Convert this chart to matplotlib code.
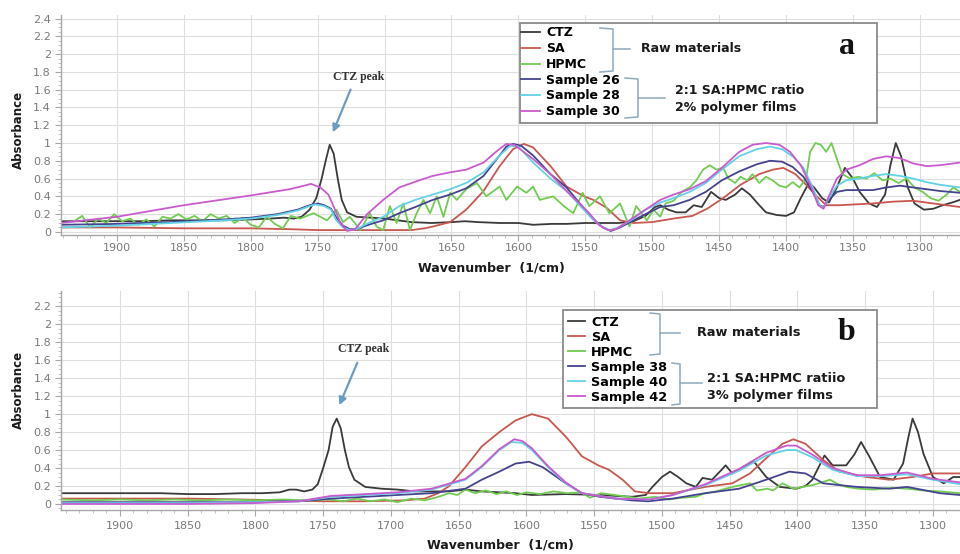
import matplotlib
matplotlib.use("Agg")
import matplotlib.pyplot as plt
from matplotlib.patches import Rectangle
from matplotlib.lines import Line2D
from matplotlib.ticker import MultipleLocator

# ---------------- data: panel a ----------------
a_ctz_wn = [1942,1920,1900,1880,1860,1840,1820,1800,1785,1775,1768,1762,1756,1751,1747,1744,1741,1738,1735,1732,1728,1721,1710,1700,1690,1680,1665,1650,1640,1630,1614,1600,1589,1575,1564,1550,1539,1525,1514,1505,1498,1494,1488,1482,1475,1469,1463,1456,1450,1445,1438,1433,1427,1420,1415,1407,1400,1394,1389,1383,1379,1373,1368,1362,1356,1350,1345,1338,1332,1326,1322,1318,1314,1309,1304,1297,1290,1283,1276,1270]
a_ctz_ab = [0.12,0.12,0.12,0.12,0.13,0.13,0.13,0.14,0.15,0.16,0.15,0.17,0.25,0.38,0.60,0.80,0.98,0.88,0.60,0.36,0.22,0.17,0.16,0.15,0.13,0.11,0.10,0.11,0.12,0.11,0.10,0.10,0.08,0.09,0.09,0.10,0.10,0.10,0.12,0.18,0.28,0.30,0.25,0.22,0.22,0.30,0.28,0.45,0.38,0.36,0.42,0.49,0.42,0.30,0.22,0.19,0.18,0.22,0.38,0.55,0.50,0.38,0.33,0.50,0.72,0.60,0.45,0.32,0.28,0.42,0.75,1.00,0.85,0.50,0.32,0.25,0.26,0.30,0.33,0.36]

a_sa_wn = [1942,1900,1850,1800,1770,1750,1700,1680,1670,1664,1651,1639,1626,1614,1604,1596,1589,1576,1564,1551,1544,1534,1524,1514,1500,1484,1470,1459,1447,1434,1420,1410,1402,1393,1385,1377,1370,1360,1335,1320,1305,1290,1270]
a_sa_ab = [0.05,0.05,0.04,0.04,0.03,0.02,0.02,0.02,0.04,0.06,0.11,0.25,0.46,0.74,0.93,0.99,0.95,0.74,0.51,0.40,0.36,0.27,0.13,0.10,0.11,0.15,0.18,0.26,0.38,0.53,0.65,0.70,0.72,0.65,0.53,0.40,0.30,0.30,0.32,0.34,0.35,0.32,0.28]

a_hpmc_wn = [1932,1926,1920,1914,1908,1902,1896,1890,1884,1878,1872,1866,1860,1854,1848,1842,1836,1830,1824,1818,1812,1806,1800,1794,1788,1782,1776,1770,1763,1753,1743,1736,1731,1726,1718,1711,1706,1701,1696,1691,1686,1681,1676,1671,1666,1661,1656,1651,1646,1639,1631,1624,1614,1609,1601,1594,1589,1584,1574,1566,1559,1552,1547,1539,1532,1524,1517,1512,1504,1499,1494,1490,1484,1478,1472,1467,1462,1457,1452,1447,1443,1438,1434,1429,1425,1420,1415,1410,1405,1400,1395,1390,1385,1382,1378,1374,1370,1366,1362,1358,1352,1346,1340,1334,1328,1322,1316,1310,1304,1298,1292,1286,1280,1275,1270]
a_hpmc_ab = [0.12,0.18,0.05,0.15,0.10,0.20,0.12,0.15,0.08,0.14,0.06,0.17,0.15,0.20,0.14,0.18,0.12,0.20,0.15,0.18,0.10,0.16,0.08,0.05,0.17,0.09,0.04,0.18,0.15,0.21,0.13,0.25,0.11,0.17,0.02,0.21,0.06,0.02,0.29,0.10,0.32,0.02,0.21,0.36,0.21,0.40,0.17,0.44,0.36,0.48,0.55,0.40,0.51,0.36,0.51,0.44,0.51,0.36,0.40,0.29,0.21,0.44,0.29,0.40,0.21,0.32,0.06,0.29,0.13,0.25,0.17,0.32,0.35,0.45,0.50,0.58,0.70,0.75,0.70,0.72,0.60,0.55,0.62,0.58,0.65,0.55,0.62,0.58,0.52,0.50,0.56,0.50,0.60,0.90,1.00,0.98,0.90,1.00,0.82,0.65,0.60,0.62,0.60,0.66,0.58,0.60,0.55,0.60,0.50,0.45,0.38,0.35,0.42,0.50,0.45]

a_s26_wn = [1942,1900,1860,1820,1800,1780,1765,1756,1750,1745,1740,1736,1731,1726,1721,1712,1701,1689,1677,1664,1651,1639,1626,1614,1609,1604,1598,1589,1576,1564,1553,1545,1537,1531,1524,1514,1505,1494,1484,1472,1460,1448,1435,1422,1412,1403,1395,1387,1380,1375,1372,1368,1362,1355,1345,1335,1325,1315,1305,1295,1285,1270]
a_s26_ab = [0.08,0.09,0.11,0.14,0.16,0.20,0.25,0.30,0.32,0.30,0.26,0.16,0.07,0.03,0.03,0.08,0.13,0.21,0.28,0.36,0.42,0.49,0.63,0.86,0.96,0.99,0.97,0.86,0.65,0.50,0.30,0.16,0.05,0.01,0.05,0.13,0.20,0.28,0.30,0.36,0.45,0.58,0.68,0.76,0.80,0.79,0.73,0.62,0.45,0.30,0.28,0.36,0.45,0.47,0.47,0.47,0.50,0.52,0.50,0.48,0.46,0.44]

a_s28_wn = [1942,1900,1860,1820,1800,1780,1765,1756,1752,1745,1740,1736,1731,1726,1721,1712,1701,1689,1677,1664,1651,1639,1626,1614,1606,1600,1589,1576,1564,1553,1545,1537,1531,1524,1514,1505,1494,1484,1472,1460,1448,1435,1422,1412,1403,1395,1387,1380,1375,1372,1368,1362,1355,1345,1335,1325,1315,1305,1295,1285,1270]
a_s28_ab = [0.05,0.07,0.10,0.13,0.15,0.19,0.24,0.29,0.31,0.29,0.25,0.13,0.05,0.02,0.03,0.10,0.17,0.29,0.36,0.42,0.48,0.55,0.67,0.86,0.97,0.96,0.78,0.60,0.46,0.28,0.15,0.05,0.02,0.06,0.15,0.25,0.33,0.38,0.45,0.55,0.70,0.85,0.93,0.96,0.93,0.85,0.72,0.50,0.30,0.27,0.38,0.52,0.58,0.60,0.63,0.65,0.63,0.60,0.56,0.53,0.50]

a_s30_wn = [1942,1900,1850,1800,1771,1760,1755,1748,1742,1737,1733,1728,1722,1713,1701,1689,1676,1664,1651,1639,1626,1616,1609,1603,1589,1576,1564,1553,1547,1540,1533,1527,1518,1505,1494,1484,1472,1460,1448,1435,1425,1415,1405,1397,1389,1381,1376,1372,1368,1362,1355,1345,1335,1325,1315,1305,1295,1285,1270]
a_s30_ab = [0.10,0.17,0.30,0.41,0.48,0.52,0.54,0.50,0.42,0.25,0.10,0.01,0.03,0.20,0.36,0.50,0.57,0.63,0.67,0.70,0.78,0.91,0.99,0.98,0.82,0.65,0.46,0.30,0.21,0.08,0.02,0.03,0.12,0.25,0.36,0.42,0.48,0.57,0.72,0.90,0.98,1.00,0.98,0.90,0.75,0.50,0.30,0.26,0.40,0.60,0.70,0.75,0.82,0.85,0.83,0.77,0.74,0.75,0.78]

# ---------------- data: panel b ----------------
b_ctz_wn = [1943,1900,1870,1850,1830,1810,1795,1782,1775,1770,1764,1758,1754,1750,1746,1743,1740,1737,1734,1731,1727,1719,1707,1695,1682,1657,1645,1633,1608,1596,1571,1546,1522,1512,1507,1500,1494,1488,1482,1475,1470,1463,1456,1453,1448,1440,1432,1423,1413,1401,1394,1389,1383,1380,1374,1364,1358,1353,1347,1339,1329,1322,1318,1315,1311,1307,1300,1292,1285,1280]
b_ctz_ab = [0.12,0.12,0.12,0.11,0.11,0.12,0.12,0.13,0.16,0.16,0.14,0.16,0.22,0.40,0.60,0.86,0.95,0.84,0.60,0.41,0.27,0.19,0.17,0.16,0.14,0.14,0.16,0.14,0.12,0.10,0.11,0.10,0.08,0.10,0.19,0.30,0.36,0.30,0.23,0.19,0.29,0.27,0.38,0.43,0.34,0.41,0.47,0.30,0.19,0.17,0.20,0.27,0.45,0.54,0.43,0.43,0.55,0.69,0.53,0.30,0.27,0.45,0.75,0.95,0.80,0.56,0.30,0.23,0.30,0.30]

b_sa_wn = [1943,1900,1850,1810,1780,1750,1720,1690,1675,1665,1657,1645,1633,1620,1608,1596,1584,1571,1559,1547,1539,1529,1520,1509,1492,1468,1448,1435,1423,1411,1403,1394,1381,1369,1349,1332,1315,1300,1280]
b_sa_ab = [0.06,0.06,0.06,0.05,0.04,0.03,0.03,0.04,0.06,0.12,0.20,0.41,0.64,0.80,0.93,1.00,0.95,0.75,0.53,0.43,0.38,0.27,0.14,0.12,0.12,0.19,0.23,0.34,0.51,0.67,0.72,0.67,0.49,0.36,0.30,0.27,0.30,0.34,0.34]

b_hpmc_wn = [1943,1920,1900,1880,1860,1840,1820,1800,1780,1760,1745,1735,1725,1715,1705,1695,1685,1675,1665,1657,1651,1645,1638,1630,1622,1615,1607,1600,1590,1580,1570,1560,1553,1545,1535,1525,1517,1505,1495,1485,1475,1468,1460,1453,1445,1435,1430,1422,1418,1411,1403,1396,1389,1382,1376,1370,1364,1355,1344,1330,1319,1307,1295,1280]
b_hpmc_ab = [0.05,0.04,0.05,0.04,0.05,0.04,0.05,0.04,0.05,0.04,0.05,0.03,0.06,0.03,0.05,0.02,0.06,0.04,0.08,0.12,0.10,0.16,0.12,0.15,0.11,0.14,0.10,0.13,0.11,0.14,0.12,0.13,0.07,0.12,0.10,0.08,0.06,0.08,0.05,0.07,0.08,0.12,0.14,0.17,0.20,0.23,0.15,0.17,0.15,0.23,0.17,0.19,0.21,0.24,0.27,0.22,0.19,0.17,0.16,0.18,0.17,0.15,0.14,0.12]

b_s38_wn = [1943,1900,1850,1800,1780,1768,1744,1719,1695,1670,1645,1633,1620,1608,1598,1588,1571,1559,1546,1522,1510,1492,1468,1443,1423,1406,1394,1381,1369,1356,1332,1319,1295,1280]
b_s38_ab = [0.02,0.02,0.02,0.02,0.03,0.03,0.06,0.08,0.10,0.12,0.17,0.27,0.36,0.45,0.47,0.41,0.23,0.12,0.08,0.04,0.03,0.06,0.12,0.17,0.27,0.36,0.34,0.23,0.21,0.19,0.17,0.19,0.12,0.10]

b_s40_wn = [1943,1900,1850,1800,1768,1744,1719,1695,1670,1645,1633,1620,1611,1603,1596,1584,1571,1559,1534,1509,1492,1468,1443,1423,1408,1401,1389,1374,1356,1339,1319,1300,1280]
b_s40_ab = [0.01,0.01,0.01,0.02,0.03,0.08,0.10,0.12,0.16,0.27,0.41,0.60,0.69,0.68,0.60,0.41,0.23,0.12,0.06,0.05,0.10,0.21,0.37,0.54,0.60,0.60,0.52,0.38,0.31,0.31,0.33,0.27,0.22]

b_s42_wn = [1943,1900,1850,1800,1768,1744,1719,1695,1670,1645,1633,1620,1609,1603,1596,1584,1571,1559,1534,1509,1492,1468,1443,1423,1408,1401,1389,1374,1356,1339,1319,1300,1280]
b_s42_ab = [0.00,0.00,0.00,0.01,0.03,0.09,0.11,0.13,0.17,0.28,0.42,0.61,0.72,0.70,0.62,0.42,0.24,0.12,0.06,0.05,0.10,0.22,0.39,0.57,0.65,0.65,0.55,0.40,0.32,0.32,0.35,0.28,0.24]

raw_labels = ["CTZ", "SA", "HPMC"]
a_sample_labels = ["Sample 26", "Sample 28", "Sample 30"]
b_sample_labels = ["Sample 38", "Sample 40", "Sample 42"]
y_ticks_a = [0, 0.2, 0.4, 0.6, 0.8, 1, 1.2, 1.4, 1.6, 1.8, 2, 2.2, 2.4]
y_ticks_b = [0, 0.2, 0.4, 0.6, 0.8, 1, 1.2, 1.4, 1.6, 1.8, 2, 2.2]
x_ticks = [1900, 1850, 1800, 1750, 1700, 1650, 1600, 1550, 1500, 1450, 1400, 1350, 1300]

colors = ["#3a3a3a", "#c8574f", "#72cc52", "#45438f", "#62d2e6", "#c95bcf"]

W, H = 960, 554
fig = plt.figure(figsize=(W / 100, H / 100), dpi=100)
fig.patch.set_facecolor("white")

def fig_rect(l, t, r, b):
    return [l / W, 1 - b / H, (r - l) / W, (b - t) / H]

ax_a = fig.add_axes(fig_rect(60.7, 15, 960, 235))
ax_b = fig.add_axes(fig_rect(61, 291, 960, 510))

def style(ax, xlim, ylim, yticks, xpad):
    ax.set_xlim(*xlim)
    ax.set_ylim(*ylim)
    ax.set_xticks(x_ticks)
    ax.set_yticks(yticks)
    ax.set_yticklabels([("%g" % v) for v in yticks])
    ax.xaxis.set_minor_locator(MultipleLocator(10))
    ax.yaxis.set_minor_locator(MultipleLocator(0.05))
    ax.grid(True, which="major", color="#dedede", lw=0.8)
    ax.set_axisbelow(True)
    for s in ["top", "right"]:
        ax.spines[s].set_visible(False)
    for s in ["left", "bottom"]:
        ax.spines[s].set_color("#a8a8a8")
        ax.spines[s].set_linewidth(1.0)
    ax.tick_params(axis="both", which="major", colors="#a8a8a8", labelcolor="#7a7a7a",
                   labelsize=8, length=4, width=0.8)
    ax.tick_params(axis="both", which="minor", colors="#b8b8b8", length=2.5, width=0.6)
    ax.tick_params(axis="x", pad=xpad)
    ax.tick_params(axis="y", pad=3)

style(ax_a, (1942, 1270), (-0.035, 2.44), y_ticks_a, 2)
style(ax_b, (1943.5, 1280), (-0.067, 2.37), y_ticks_b, 4)

lw = 1.3
series_a = [(a_ctz_wn, a_ctz_ab), (a_sa_wn, a_sa_ab), (a_hpmc_wn, a_hpmc_ab),
            (a_s26_wn, a_s26_ab), (a_s28_wn, a_s28_ab), (a_s30_wn, a_s30_ab)]
series_b = [(b_ctz_wn, b_ctz_ab), (b_sa_wn, b_sa_ab), (b_hpmc_wn, b_hpmc_ab),
            (b_s38_wn, b_s38_ab), (b_s40_wn, b_s40_ab), (b_s42_wn, b_s42_ab)]
order = [2, 1, 4, 5, 3, 0]  # drawing order: green, red, cyan, pink, navy, black

handles_a = [None] * 6
handles_b = [None] * 6
la = raw_labels + a_sample_labels
lb = raw_labels + b_sample_labels
for i in order:
    h, = ax_a.plot(series_a[i][0], series_a[i][1], color=colors[i], lw=lw, label=la[i], zorder=2 + i * 0.01)
    handles_a[i] = h
    h, = ax_b.plot(series_b[i][0], series_b[i][1], color=colors[i], lw=lw, label=lb[i], zorder=2 + i * 0.01)
    handles_b[i] = h

br_color = "#8eaabd"
box_color = "#8a8a8a"

def add_box(ax, tr, box, leg_anchor, fs, brackets, texts, letter):
    l, t, r, b = box
    x0, y0 = tr(l, b)
    x1, y1 = tr(r, t)
    ax.add_patch(Rectangle((x0, y0), x1 - x0, y1 - y0, transform=ax.transAxes,
                           facecolor="white", edgecolor=box_color, lw=1.3, zorder=5))
    for seg in brackets:
        xs = [tr(px, py)[0] for px, py in seg]
        ys = [tr(px, py)[1] for px, py in seg]
        ax.add_line(Line2D(xs, ys, transform=ax.transAxes, color=br_color, lw=1.1, zorder=7))
    for (px, py, s) in texts:
        x, y = tr(px, py)
        ax.text(x, y, s, transform=ax.transAxes, fontsize=fs, fontweight="bold",
                color="#1a1a1a", ha="left", va="center", zorder=8)
    lx, ly, ls = letter
    x, y = tr(lx, ly)
    ax.text(x, y, ls, transform=ax.transAxes, fontsize=23, fontweight="bold",
            family="Liberation Serif", color="#111111", ha="center", va="center", zorder=8)
    return tr(*leg_anchor)

def tr_a(px, py):
    return ((px - 60.7) / 899.3, (235 - py) / 220)

def tr_b(px, py):
    return ((px - 61) / 899, (510 - py) / 219)

# panel a box
anc = add_box(ax_a, tr_a, (520, 23, 877, 123), (521, 26.5), 9,
              [[(600, 28), (613, 29), (613, 71), (600, 72)], [(613, 49), (630, 49)],
               [(625, 78), (638, 79), (638, 117), (625, 118)], [(638, 98), (665, 98)]],
              [(641, 48, "Raw materials"), (675, 90, "2:1 SA:HPMC ratio"), (675, 107, "2% polymer films")],
              (847, 47, "a"))
leg = ax_a.legend(handles=handles_a, loc="upper left", bbox_to_anchor=anc, frameon=False,
                  prop=dict(size=9, weight="bold"), handlelength=1.55, handletextpad=0.45,
                  labelspacing=0.22, borderpad=0.0, borderaxespad=0.0)
leg.set_zorder(9)

anc = add_box(ax_b, tr_b, (563, 310, 877, 408), (568, 315.5), 9.3,
              [[(650, 313), (660, 314), (660, 354), (650, 355)], [(660, 333), (680, 333)],
               [(672, 363), (680, 364), (680, 404), (672, 405)], [(680, 383), (702, 383)]],
              [(697, 333, "Raw materials"), (707, 378, "2:1 SA:HPMC ratiio"), (707, 395, "3% polymer films")],
              (847, 332, "b"))
leg = ax_b.legend(handles=handles_b, loc="upper left", bbox_to_anchor=anc, frameon=False,
                  prop=dict(size=9.3, weight="bold"), handlelength=1.35, handletextpad=0.45,
                  labelspacing=0.16, borderpad=0.0, borderaxespad=0.0)
leg.set_zorder(9)

# CTZ peak annotations
arrow_c = "#6b9dc4"
ax_a.annotate("", xy=(1739.4, 1.09), xytext=(1724.6, 1.63),
              arrowprops=dict(arrowstyle="-|>", color=arrow_c, lw=1.6, mutation_scale=11), zorder=6)
ax_a.text(1719.5, 1.74, "CTZ peak", fontsize=8.5, fontweight="bold", family="Liberation Serif",
          color="#333333", ha="center", va="center", zorder=6)
ax_b.annotate("", xy=(1738.9, 1.07), xytext=(1724, 1.6),
              arrowprops=dict(arrowstyle="-|>", color=arrow_c, lw=1.6, mutation_scale=11), zorder=6)
ax_b.text(1720, 1.72, "CTZ peak", fontsize=8.5, fontweight="bold", family="Liberation Serif",
          color="#333333", ha="center", va="center", zorder=6)

# axis titles
fig.text(18 / W, 1 - 130 / H, "Absorbance", rotation=90, fontsize=8.5, fontweight="bold",
         ha="center", va="center", color="#1a1a1a")
fig.text(18 / W, 1 - 390 / H, "Absorbance", rotation=90, fontsize=8.5, fontweight="bold",
         ha="center", va="center", color="#1a1a1a")
fig.text(491 / W, 1 - 268 / H, "Wavenumber  (1/cm)", fontsize=9, fontweight="bold",
         ha="center", va="center", color="#1a1a1a")
fig.text(500 / W, 1 - 545 / H, "Wavenumber  (1/cm)", fontsize=9, fontweight="bold",
         ha="center", va="center", color="#1a1a1a")

fig.savefig("out.png", dpi=100)
